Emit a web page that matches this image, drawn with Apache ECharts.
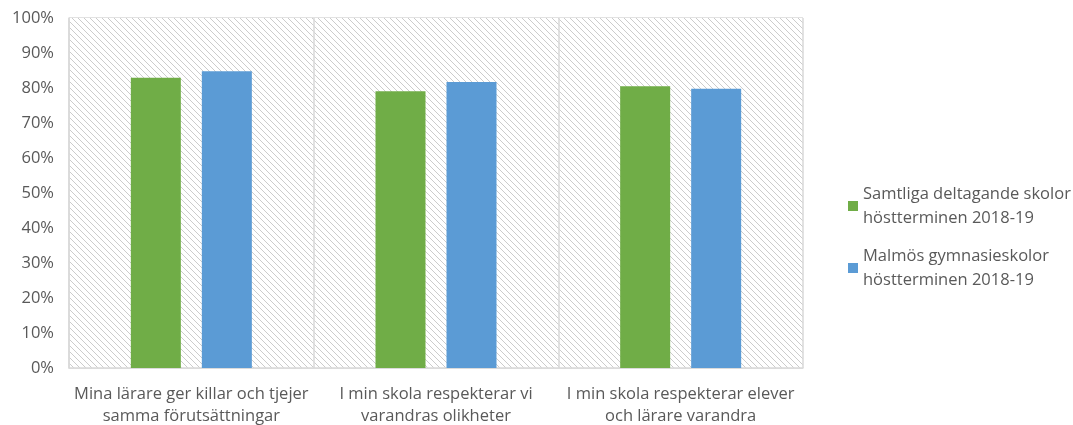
<!DOCTYPE html>
<html><head><meta charset="utf-8">
<script src="https://cdn.jsdelivr.net/npm/echarts@6/dist/echarts.min.js"></script>
<style>html,body{margin:0;padding:0;background:#fff}#c{width:1073px;height:425px}</style>
</head><body><div id="c"></div>
<script>
const categories = ['Mina lärare ger killar och tjejer\nsamma förutsättningar', 'I min skola respekterar vi\nvarandras olikheter', 'I min skola respekterar elever\noch lärare varandra'];
const seriesNames = ['Samtliga deltagande skolor\nhöstterminen 2018-19', 'Malmös gymnasieskolor\nhöstterminen 2018-19'];
const samtliga = [82.9, 79.1, 80.5];
const malmo = [84.8, 81.7, 79.8];
const yTicks = [0, 10, 20, 30, 40, 50, 60, 70, 80, 90, 100];

const pc = document.createElement('canvas');
pc.width = 6; pc.height = 6;
const g = pc.getContext('2d');
g.fillStyle = '#ffffff'; g.fillRect(0, 0, 6, 6);
g.strokeStyle = '#cccccc'; g.lineWidth = 1;
g.beginPath();
g.moveTo(-1, -1); g.lineTo(7, 7);
g.moveTo(-1, 5); g.lineTo(1, 7);
g.moveTo(5, -1); g.lineTo(7, 1);
g.stroke();

const chart = echarts.init(document.getElementById('c'), null, {renderer: 'canvas'});
const font = 'Open Sans';
chart.setOption({
  animation: false,
  textStyle: {fontFamily: font},
  grid: {left: 69, right: 270, top: 18, bottom: 57, containLabel: false, outerBoundsMode: 'none'},
  legend: {
    orient: 'vertical', left: 843, top: 177,
    itemWidth: 10, itemHeight: 10, itemGap: 14, icon: 'rect',
    textStyle: {color: '#595959', fontSize: 16.5, fontFamily: font, lineHeight: 24}
  },
  xAxis: {
    type: 'category', data: categories,
    axisLine: {show: true, lineStyle: {color: '#d9d9d9', width: 1.5}},
    axisTick: {show: false},
    splitLine: {show: true, lineStyle: {color: '#d9d9d9', width: 1.5}},
    splitArea: {show: true, areaStyle: {color: [{image: pc, repeat: 'repeat'}]}},
    axisLabel: {color: '#595959', fontSize: 16.5, lineHeight: 22, margin: 15, interval: 0}
  },
  yAxis: {
    type: 'value', min: 0, max: 100, interval: 10,
    axisLine: {show: true, lineStyle: {color: '#d9d9d9', width: 1.5}},
    axisTick: {show: false},
    splitLine: {show: true, lineStyle: {color: '#d9d9d9', width: 1.5}},
    axisLabel: {color: '#595959', fontSize: 16.5, margin: 15, formatter: v => yTicks.includes(v) ? v + '%' : ''}
  },
  series: [
    {name: seriesNames[0], type: 'bar', data: samtliga, barWidth: 50, barGap: '42%', itemStyle: {color: '#70ad47'}},
    {name: seriesNames[1], type: 'bar', data: malmo, barWidth: 50, barGap: '42%', itemStyle: {color: '#5b9bd5'}}
  ]
});
</script></body></html>
